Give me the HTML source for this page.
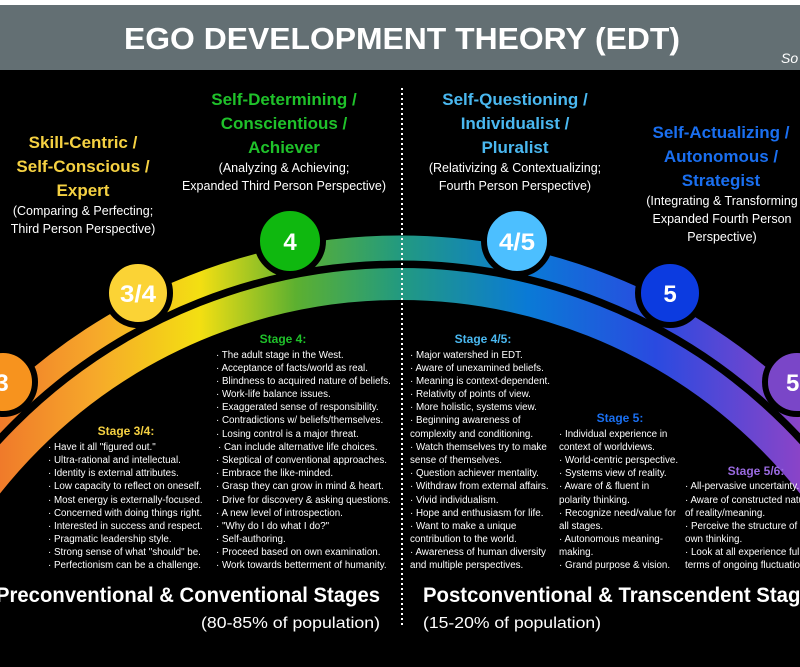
<!DOCTYPE html>
<html><head><meta charset="utf-8"><style>
html,body{margin:0;padding:0;background:#000;width:800px;height:667px;overflow:hidden;}
svg{display:block;font-family:"Liberation Sans",sans-serif;}
</style></head><body>
<svg width="800" height="667" viewBox="0 0 800 667" xmlns="http://www.w3.org/2000/svg">
<defs>
<linearGradient id="g" x1="0" y1="0" x2="800" y2="0" gradientUnits="userSpaceOnUse">
<stop offset="0" stop-color="#f07a2a"/>
<stop offset="0.12" stop-color="#f6a92a"/>
<stop offset="0.25" stop-color="#f3df12"/>
<stop offset="0.37" stop-color="#5cb030"/>
<stop offset="0.5" stop-color="#229a80"/>
<stop offset="0.66" stop-color="#0a7ad6"/>
<stop offset="0.82" stop-color="#2a4ae0"/>
<stop offset="1" stop-color="#8a44c8"/>
</linearGradient>
</defs>
<rect width="800" height="667" fill="#000"/>
<rect width="800" height="5" fill="#fff"/>
<rect y="5" width="800" height="65" fill="#636f73"/>
<text x="402" y="49" fill="#fff" font-size="31" font-weight="bold" text-anchor="middle" textLength="556" lengthAdjust="spacingAndGlyphs">EGO DEVELOPMENT THEORY (EDT)</text>
<text x="781" y="63" fill="#fff" font-size="14" font-style="italic">So</text>

<circle cx="400" cy="810" r="562" fill="none" stroke="url(#g)" stroke-width="25"/>
<circle cx="400" cy="810" r="526" fill="none" stroke="url(#g)" stroke-width="32"/>

<line x1="402" y1="88" x2="402" y2="625" stroke="#fff" stroke-width="2" stroke-dasharray="2,3"/>

<g stroke="#000" stroke-width="6">
<circle cx="3" cy="382" r="32" fill="#f7931e"/>
<circle cx="138" cy="293" r="32" fill="#fbd335"/>
<circle cx="290" cy="241" r="33" fill="#0fb80f"/>
<circle cx="517" cy="241" r="33" fill="#4cbfff"/>
<circle cx="670" cy="293" r="32" fill="#0c3be0"/>
<circle cx="797" cy="382" r="32" fill="#7a46c8"/>
</g>
<g fill="#fff" font-weight="bold" font-size="24" text-anchor="middle">
<text x="2" y="391">3</text>
<text x="138" y="302" textLength="36" lengthAdjust="spacingAndGlyphs">3/4</text>
<text x="290" y="250">4</text>
<text x="517" y="250" textLength="36" lengthAdjust="spacingAndGlyphs">4/5</text>
<text x="670" y="302">5</text>
<text x="786" y="391" text-anchor="start">5</text>
</g>

<g font-weight="bold" font-size="17" text-anchor="middle">
<g fill="#f5d142">
<text x="83" y="148">Skill-Centric /</text>
<text x="83" y="172">Self-Conscious /</text>
<text x="83" y="196">Expert</text>
</g>
<g fill="#1fc12a">
<text x="284" y="105">Self-Determining /</text>
<text x="284" y="129">Conscientious /</text>
<text x="284" y="153">Achiever</text>
</g>
<g fill="#4ab8f0">
<text x="515" y="105">Self-Questioning /</text>
<text x="515" y="129">Individualist /</text>
<text x="515" y="153">Pluralist</text>
</g>
<g fill="#1a6ff0">
<text x="721" y="138">Self-Actualizing /</text>
<text x="721" y="162">Autonomous /</text>
<text x="721" y="186">Strategist</text>
</g>
</g>
<g fill="#fff" font-size="12.5" text-anchor="middle">
<text x="83" y="215">(Comparing &amp; Perfecting;</text>
<text x="83" y="233">Third Person Perspective)</text>
<text x="284" y="172">(Analyzing &amp; Achieving;</text>
<text x="284" y="190">Expanded Third Person Perspective)</text>
<text x="515" y="172">(Relativizing &amp; Contextualizing;</text>
<text x="515" y="190">Fourth Person Perspective)</text>
<text x="722" y="205">(Integrating &amp; Transforming</text>
<text x="722" y="223">Expanded Fourth Person</text>
<text x="722" y="241">Perspective)</text>
</g>

<g font-weight="bold" font-size="12" text-anchor="middle">
<text x="283" y="343" fill="#1fc12a">Stage 4:</text>
<text x="126" y="435" fill="#f5d142">Stage 3/4:</text>
<text x="483" y="343" fill="#4ab8f0">Stage 4/5:</text>
<text x="620" y="422" fill="#1a6ff0">Stage 5:</text>
<text x="756" y="475" fill="#9a6ae0">Stage 5/6:</text>
</g>

<g fill="#fff" font-size="9.8">
<g>
<text x="48" y="450">· Have it all "figured out."</text>
<text x="48" y="463">· Ultra-rational and intellectual.</text>
<text x="48" y="476">· Identity is external attributes.</text>
<text x="48" y="489">· Low capacity to reflect on oneself.</text>
<text x="48" y="503">· Most energy is externally-focused.</text>
<text x="48" y="516">· Concerned with doing things right.</text>
<text x="48" y="529">· Interested in success and respect.</text>
<text x="48" y="542">· Pragmatic leadership style.</text>
<text x="48" y="555">· Strong sense of what "should" be.</text>
<text x="48" y="568">· Perfectionism can be a challenge.</text>
</g>
<g>
<text x="216" y="358">· The adult stage in the West.</text>
<text x="216" y="371">· Acceptance of facts/world as real.</text>
<text x="216" y="384">· Blindness to acquired nature of beliefs.</text>
<text x="216" y="397">· Work-life balance issues.</text>
<text x="216" y="410">· Exaggerated sense of responsibility.</text>
<text x="216" y="423">· Contradictions w/ beliefs/themselves.</text>
<text x="216" y="437">· Losing control is a major threat.</text>
<text x="218" y="450">· Can include alternative life choices.</text>
<text x="216" y="463">· Skeptical of conventional approaches.</text>
<text x="216" y="476">· Embrace the like-minded.</text>
<text x="216" y="489">· Grasp they can grow in mind &amp; heart.</text>
<text x="216" y="503">· Drive for discovery &amp; asking questions.</text>
<text x="216" y="516">· A new level of introspection.</text>
<text x="216" y="529">· "Why do I do what I do?"</text>
<text x="216" y="542">· Self-authoring.</text>
<text x="216" y="555">· Proceed based on own examination.</text>
<text x="216" y="568">· Work towards betterment of humanity.</text>
</g>
<g>
<text x="410" y="358">· Major watershed in EDT.</text>
<text x="410" y="371">· Aware of unexamined beliefs.</text>
<text x="410" y="384">· Meaning is context-dependent.</text>
<text x="410" y="397">· Relativity of points of view.</text>
<text x="410" y="410">· More holistic, systems view.</text>
<text x="410" y="423">· Beginning awareness of</text>
<text x="410" y="437">complexity and conditioning.</text>
<text x="410" y="450">· Watch themselves try to make</text>
<text x="410" y="463">sense of themselves.</text>
<text x="410" y="476">· Question achiever mentality.</text>
<text x="410" y="489">· Withdraw from external affairs.</text>
<text x="410" y="503">· Vivid individualism.</text>
<text x="410" y="516">· Hope and enthusiasm for life.</text>
<text x="410" y="529">· Want to make a unique</text>
<text x="410" y="542">contribution to the world.</text>
<text x="410" y="555">· Awareness of human diversity</text>
<text x="410" y="568">and multiple perspectives.</text>
</g>
<g>
<text x="559" y="437">· Individual experience in</text>
<text x="559" y="450">context of worldviews.</text>
<text x="559" y="463">· World-centric perspective.</text>
<text x="559" y="476">· Systems view of reality.</text>
<text x="559" y="489">· Aware of &amp; fluent in</text>
<text x="559" y="503">polarity thinking.</text>
<text x="559" y="516">· Recognize need/value for</text>
<text x="559" y="529">all stages.</text>
<text x="559" y="542">· Autonomous meaning-</text>
<text x="559" y="555">making.</text>
<text x="559" y="568">· Grand purpose &amp; vision.</text>
</g>
<g>
<text x="685" y="489">· All-pervasive uncertainty.</text>
<text x="685" y="503">· Aware of constructed nature</text>
<text x="685" y="516">of reality/meaning.</text>
<text x="685" y="529">· Perceive the structure of</text>
<text x="685" y="542">own thinking.</text>
<text x="685" y="555">· Look at all experience fully in</text>
<text x="685" y="568">terms of ongoing fluctuation.</text>
</g>
</g>

<g fill="#fff">
<text x="380" y="602" font-size="21" font-weight="bold" text-anchor="end" textLength="384" lengthAdjust="spacingAndGlyphs">Preconventional &amp; Conventional Stages</text>
<text x="380" y="628" font-size="16" text-anchor="end" textLength="179" lengthAdjust="spacingAndGlyphs">(80-85% of population)</text>
<text x="423" y="602" font-size="21" font-weight="bold" textLength="400" lengthAdjust="spacingAndGlyphs">Postconventional &amp; Transcendent Stages</text>
<text x="423" y="628" font-size="16" textLength="178" lengthAdjust="spacingAndGlyphs">(15-20% of population)</text>
</g>
</svg>
</body></html>
